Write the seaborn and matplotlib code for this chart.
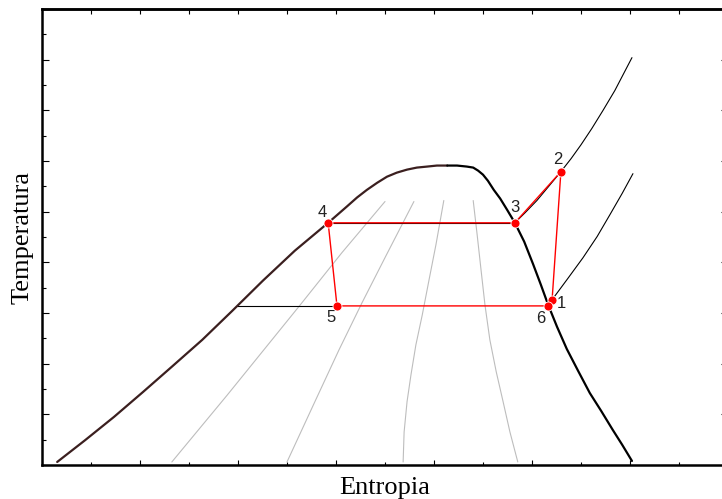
import numpy as np
import matplotlib
matplotlib.use("Agg")
import matplotlib.pyplot as plt
import seaborn as sns
from matplotlib.ticker import MultipleLocator

# saturation dome (entropy, temperature)
liq_s = [0.31, 0.88, 1.47, 2.06, 2.65, 3.27, 3.88, 4.51, 5.16, 5.84, 6.22, 6.43, 6.63, 6.84, 7.04,
         7.24, 7.45, 7.65, 7.86, 8.06, 8.27]
liq_T = [0.06, 0.49, 0.95, 1.44, 1.94, 2.47, 3.04, 3.64, 4.23, 4.78, 5.10, 5.28, 5.43, 5.57, 5.69,
         5.77, 5.83, 5.87, 5.89, 5.91, 5.91]
vap_s = [8.27, 8.47, 8.67, 8.80, 8.90, 9.00, 9.10, 9.22, 9.35, 9.49, 9.65, 9.84, 10.02, 10.18,
         10.33, 10.51, 10.71, 10.94, 11.18, 11.41, 11.65, 11.84, 12.04]
vap_T = [5.91, 5.91, 5.89, 5.87, 5.81, 5.73, 5.61, 5.43, 5.26, 5.04, 4.78, 4.41, 3.97, 3.56,
         3.16, 2.73, 2.29, 1.86, 1.42, 1.07, 0.69, 0.40, 0.08]

# isobars
hp_s = [9.65, 9.86, 10.10, 10.35, 10.59, 10.80, 11.00, 11.22, 11.45, 11.69, 12.04]
hp_T = [4.78, 4.98, 5.22, 5.51, 5.79, 6.05, 6.32, 6.64, 7.00, 7.39, 8.04]
lp_s = [10.41, 10.47, 10.73, 11.04, 11.33, 11.59, 11.84, 12.06]
lp_T = [3.26, 3.34, 3.68, 4.09, 4.51, 4.94, 5.36, 5.75]
lp_mix_s = [3.98, 6.02]
lp_mix_T = [3.14, 3.14]
hp_mix_s = [5.84, 9.65]
hp_mix_T = [4.78, 4.78]

# constant quality lines (gray)
qa_s = [2.65, 3.78, 5.27, 6.12, 7.00]
qa_T = [0.06, 1.38, 3.16, 4.19, 5.20]
qb_s = [5.00, 5.55, 6.06, 6.53, 7.02, 7.59]
qb_T = [0.06, 1.21, 2.27, 3.20, 4.13, 5.20]
qc_s = [7.37, 7.39, 7.45, 7.53, 7.63, 7.76, 7.90, 8.04, 8.20]
qc_T = [0.06, 0.65, 1.25, 1.78, 2.37, 2.96, 3.66, 4.35, 5.22]
qd_s = [9.71, 9.55, 9.41, 9.27, 9.14, 9.04, 8.96, 8.88, 8.80]
qd_T = [0.06, 0.65, 1.25, 1.84, 2.47, 3.16, 3.85, 4.55, 5.22]

# cycle states
state_lbl = ['1', '2', '3', '4', '5', '6']
state_s = [10.41, 10.59, 9.65, 5.84, 6.02, 10.33]
state_T = [3.26, 5.79, 4.78, 4.78, 3.14, 3.14]
cycle_order = [0, 1, 2, 3, 4, 5, 0]

sns.set_theme(style="ticks")
plt.rcParams['font.family'] = ['Liberation Serif', 'DejaVu Serif']

fig = plt.figure(figsize=(7.22, 4.99), dpi=100)
ax = fig.add_axes([42 / 722, 34 / 499, 686 / 722, 456 / 499])


def curve(xs, ys, **kw):
    sns.lineplot(x=xs, y=ys, sort=False, estimator=None, ax=ax, legend=False, **kw)


for qs, qT in [(qa_s, qa_T), (qb_s, qb_T), (qc_s, qc_T), (qd_s, qd_T)]:
    curve(qs, qT, color='#bdbdbd', linewidth=0.8)

curve(hp_s, hp_T, color='black', linewidth=0.8)
curve(lp_s, lp_T, color='black', linewidth=0.8)
curve(lp_mix_s, lp_mix_T, color='black', linewidth=0.8)
curve(hp_mix_s, hp_mix_T, color='black', linewidth=0.8)

curve(liq_s, liq_T, color='#3b1f1f', linewidth=1.6)
curve(vap_s, vap_T, color='black', linewidth=1.6)

cyc_s = [state_s[i] for i in cycle_order]
cyc_T = [state_T[i] for i in cycle_order]
curve(cyc_s, cyc_T, color='red', linewidth=1.0)

sns.scatterplot(x=state_s, y=state_T, ax=ax, color='red', s=42,
                edgecolor='white', linewidth=0.6, zorder=5, legend=False)

offsets = {'1': (7, -3), '2': (-2, 8.5), '3': (0, 11), '4': (-4.5, 7.5), '5': (-4, -8), '6': (-5, -9)}
for lbl, s, T in zip(state_lbl, state_s, state_T):
    ax.annotate(lbl, (s, T), xytext=offsets[lbl], textcoords='offset points',
                ha='center', va='center', fontsize=12, family='Liberation Sans',
                color='#222222')

ax.set_xlim(0, 14)
ax.set_ylim(0, 9)
ax.xaxis.set_major_locator(MultipleLocator(2))
ax.xaxis.set_minor_locator(MultipleLocator(1))
ax.yaxis.set_major_locator(MultipleLocator(1))
ax.yaxis.set_minor_locator(MultipleLocator(0.5))
ax.tick_params(which='both', direction='in', width=0.8, colors='black',
               labelbottom=False, labelleft=False)
ax.tick_params(axis='y', which='major', length=5, right=True)
ax.tick_params(axis='y', which='minor', length=3, right=False)
ax.tick_params(axis='x', which='major', length=3.6, top=False)
ax.tick_params(axis='x', which='minor', length=2.2, top=False)

top = ax.secondary_xaxis('top')
top.set_xticks(np.arange(0, 15), [''] * 15)
top.tick_params(direction='in', length=3.6, width=0.8, colors='black')

for sp in ax.spines.values():
    sp.set_linewidth(1.8)
    sp.set_color('black')
    sp.set_visible(True)
top.spines['top'].set_linewidth(1.8)
top.spines['top'].set_color('black')

ax.set_xlabel('Entropia', fontsize=19, labelpad=8.5, color='black')
ax.set_ylabel('Temperatura', fontsize=19, labelpad=6, color='black')

fig.savefig('out.png', dpi=100)
